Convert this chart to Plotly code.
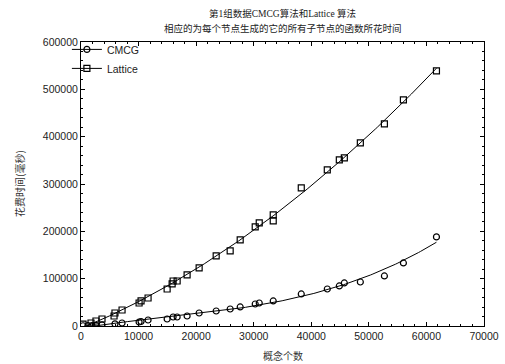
import numpy as np
import plotly.graph_objects as go

# ---- data ----
lattice_x = [350, 1740, 2600, 3650, 5740, 5900, 7130, 10090, 10430, 11650,
             14960, 15830, 16000, 16700, 18430, 20520, 23480, 25910, 27650,
             30260, 30960, 33390, 33390, 38260, 42780, 44870, 45740, 48520,
             52700, 56000, 61740]
lattice_y = [4000, 6300, 10600, 14800, 21100, 27500, 33800, 48600, 52900, 59200,
             78200, 88800, 95100, 95100, 107800, 122600, 148000, 158600, 181800,
             209300, 217800, 234700, 222000, 291800, 329800, 351000, 355200, 386900,
             427000, 477800, 539100]

cmcg_x = [350, 1200, 1900, 2600, 3650, 5900, 7130, 10090, 10430, 11650,
          14960, 16000, 16700, 18430, 20520, 23480, 25910, 27650, 30260,
          30960, 33390, 38260, 42780, 44870, 45740, 48520, 52700, 56000, 61740]
cmcg_y = [500, 800, 1000, 1500, 2500, 4500, 6300, 8500, 9500, 12700,
          14800, 19000, 19000, 21100, 27500, 31700, 35900, 40200, 46500,
          48600, 52900, 67700, 78200, 84600, 90900, 93000, 105700, 133200, 188200]

title_lines = ["第1组数据CMCG算法和Lattice 算法",
               "相应的为每个节点生成的它的所有子节点的函数所花时间"]
x_title = "概念个数"
y_title = "花费时间(毫秒)"
x_ticks = [0, 10000, 20000, 30000, 40000, 50000, 60000, 70000]
y_ticks = [0, 100000, 200000, 300000, 400000, 500000, 600000]

# smooth fitted curves derived from the data
def fit_curve(xs, ys, deg):
    c = np.polyfit(xs, ys, deg)
    xx = np.linspace(0, max(xs), 200)
    return xx, np.polyval(c, xx)

lfx, lfy = fit_curve(lattice_x, lattice_y, 2)
cfx, cfy = fit_curve(cmcg_x, cmcg_y, 3)

sans = "Liberation Sans, Arial, sans-serif"
serif_cjk = "Liberation Serif, Noto Sans CJK SC, serif"
cjk = "Noto Sans CJK SC"

mk = lambda sym: dict(symbol=sym, size=6, color="black", line=dict(width=1.2, color="black"))

fig = go.Figure()
fig.add_trace(go.Scatter(x=cfx, y=cfy, mode="lines", line=dict(color="black", width=1),
                         showlegend=False, hoverinfo="skip"))
fig.add_trace(go.Scatter(x=lfx, y=lfy, mode="lines", line=dict(color="black", width=1),
                         showlegend=False, hoverinfo="skip"))
fig.add_trace(go.Scatter(x=cmcg_x, y=cmcg_y, mode="markers", name="CMCG",
                         marker=mk("circle-open"), showlegend=False))
fig.add_trace(go.Scatter(x=lattice_x, y=lattice_y, mode="markers", name="Lattice",
                         marker=mk("square-open"), showlegend=False))
# legend entries (line + marker, like the reference)
fig.add_trace(go.Scatter(x=[None], y=[None], mode="lines+markers", name="CMCG",
                         line=dict(color="black", width=1), marker=mk("circle-open")))
fig.add_trace(go.Scatter(x=[None], y=[None], mode="lines+markers", name="Lattice",
                         line=dict(color="black", width=1), marker=mk("square-open")))

ys_title = [1 + (42 - 14) / 284, 1 + (42 - 28) / 284]
for t, yy in zip(title_lines, ys_title):
    fig.add_annotation(text=t, xref="paper", yref="paper", x=0.5, y=yy,
                       xanchor="center", yanchor="middle", showarrow=False,
                       font=dict(family=serif_cjk, size=9.5, color="#222"))

# axis titles placed as annotations
fig.add_annotation(text=x_title, xref="paper", yref="paper", x=0.5, y=-(355 - 326) / 284,
                   xanchor="center", yanchor="middle", showarrow=False,
                   font=dict(family=cjk, size=10, color="#333"))
fig.add_annotation(text=y_title, xref="paper", yref="paper", x=-(81 - 19) / 403, y=0.5,
                   xanchor="center", yanchor="middle", showarrow=False, textangle=-90,
                   font=dict(family=cjk, size=10, color="#333"))

fig.update_layout(
    width=505, height=364,
    margin=dict(l=81, r=21, t=42, b=38),
    paper_bgcolor="white", plot_bgcolor="white",
    showlegend=True,
    legend=dict(x=-0.035, y=1.025, xanchor="left", yanchor="top",
                bgcolor="rgba(0,0,0,0)", font=dict(family=sans, size=10.5, color="#222"),
                tracegroupgap=0, itemwidth=30),
    font=dict(family=sans, color="#222"),
)
fig.update_xaxes(range=[0, 70000], tickvals=x_ticks, ticktext=[str(v) for v in x_ticks],
                 ticks="inside", ticklen=4, tickcolor="black",
                 showline=True, linecolor="black", linewidth=1, mirror="ticks",
                 showgrid=False, zeroline=False, automargin=False,
                 minor=dict(ticks="inside", ticklen=2, dtick=2000, tickcolor="black"),
                 tickfont=dict(family=sans, size=10.5, color="#222"))
fig.update_yaxes(range=[0, 600000], tickvals=y_ticks, ticktext=[str(v) for v in y_ticks],
                 ticks="inside", ticklen=4, tickcolor="black",
                 showline=True, linecolor="black", linewidth=1, mirror="ticks",
                 showgrid=False, zeroline=False, automargin=False,
                 minor=dict(ticks="inside", ticklen=2, dtick=20000, tickcolor="black"),
                 tickfont=dict(family=sans, size=10.5, color="#222"))

fig.write_html("out.html")
